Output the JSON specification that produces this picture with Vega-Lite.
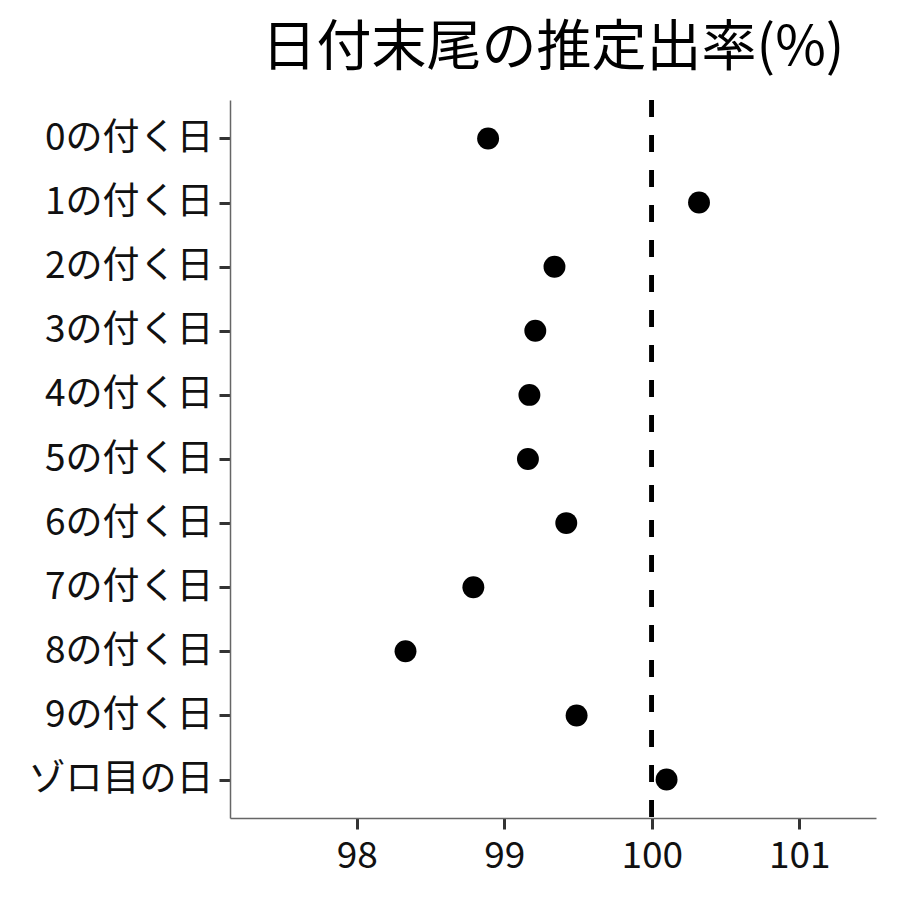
{
  "$schema": "https://vega.github.io/schema/vega-lite/v6.json",
  "autosize": {"type": "none"},
  "width": 646,
  "height": 718,
  "padding": {"left": 230, "top": 100, "right": 24, "bottom": 82},
  "background": "white",
  "title": {
    "text": "日付末尾の推定出率(%)",
    "font": "Noto Sans CJK JP",
    "fontSize": 55,
    "fontWeight": "normal",
    "color": "black",
    "anchor": "middle",
    "offset": 21
  },
  "config": {
    "view": {"stroke": null},
    "font": "Noto Sans CJK JP"
  },
  "data": {
    "values": [
      {"label": "0の付く日", "rate": 98.89},
      {"label": "1の付く日", "rate": 100.32},
      {"label": "2の付く日", "rate": 99.34},
      {"label": "3の付く日", "rate": 99.21},
      {"label": "4の付く日", "rate": 99.17},
      {"label": "5の付く日", "rate": 99.16},
      {"label": "6の付く日", "rate": 99.42},
      {"label": "7の付く日", "rate": 98.79},
      {"label": "8の付く日", "rate": 98.33},
      {"label": "9の付く日", "rate": 99.49},
      {"label": "ゾロ目の日", "rate": 100.10}
    ]
  },
  "layer": [
    {
      "mark": {"type": "rule", "strokeDash": [17, 18], "strokeWidth": 4, "color": "black"},
      "encoding": {
        "x": {"datum": 100, "type": "quantitative"}
      }
    },
    {
      "mark": {"type": "point", "shape": "circle", "filled": true, "size": 480, "color": "black", "opacity": 1},
      "encoding": {
        "y": {
          "field": "label",
          "type": "nominal",
          "sort": null,
          "scale": {"type": "point", "padding": 0.6},
          "axis": {
            "title": null,
            "labelFont": "Noto Sans CJK JP",
            "labelFontSize": 37,
            "labelColor": "#111111",
            "labelPadding": 6,
            "labelLimit": 400,
            "tickSize": 11,
            "tickWidth": 3,
            "tickColor": "#333333",
            "domainColor": "#666666",
            "domainWidth": 1.5,
            "grid": false
          }
        },
        "x": {
          "field": "rate",
          "type": "quantitative",
          "scale": {"domain": [97.14, 101.52], "nice": false, "zero": false},
          "axis": {
            "title": null,
            "values": [98, 99, 100, 101],
            "format": "d",
            "labelFont": "Noto Sans CJK JP",
            "labelFontSize": 37,
            "labelColor": "#111111",
            "labelPadding": 9,
            "tickSize": 11,
            "tickWidth": 3,
            "tickColor": "#333333",
            "domainColor": "#666666",
            "domainWidth": 1.5,
            "grid": false
          }
        }
      }
    }
  ]
}
